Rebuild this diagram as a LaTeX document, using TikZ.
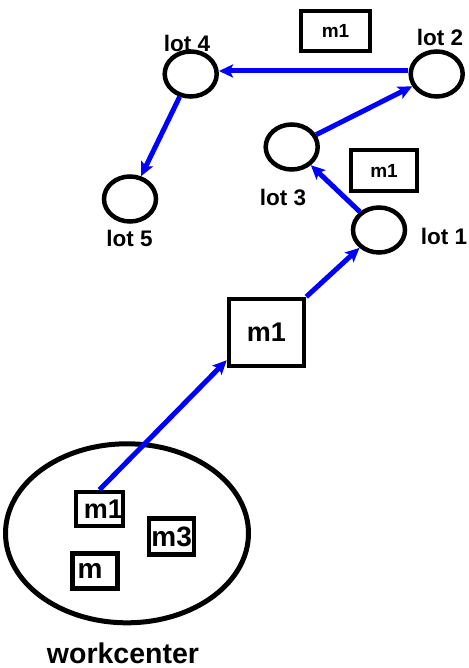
\documentclass[tikz,border=0pt]{standalone}
\usepackage{fontspec}
\setmainfont{Liberation Sans}
\usetikzlibrary{shapes.geometric,arrows.meta}
\tikzset{
  lot/.style={draw,ellipse,line width=4.5pt,minimum width=52pt,minimum height=45pt,inner sep=0pt},
  mbox/.style={draw,rectangle,line width=4.5pt,inner sep=0pt,font=\bfseries\fontsize{#1}{#1}\selectfont},
  lbl/.style={inner sep=0pt,font=\bfseries\fontsize{22.5}{22.5}\selectfont},
  flow/.style={draw=blue,line width=5pt,-{Stealth[length=14pt,width=13pt,inset=3pt]}}
}
\begin{document}
\begin{tikzpicture}[x=1pt,y=-1pt]
  \useasboundingbox (0,0) rectangle (468,668);
  \node[lot] (lot4) at (190.7,74) {};
  \node[lot] (lot2) at (436.7,74) {};
  \node[lot] (lot3) at (291.7,147) {};
  \node[lot] (lot1) at (379,230) {};
  \node[lot] (lot5) at (130,199) {};
  \node[lbl] (lot4lbl) at (187,43) {lot 4};
  \node[lbl] (lot2lbl) at (440,37) {lot 2};
  \node[lbl] (lot3lbl) at (283,197) {lot 3};
  \node[lbl] (lot1lbl) at (444,236) {lot 1};
  \node[lbl] (lot5lbl) at (129.5,238) {lot 5};
  \node[mbox=19,minimum width=69pt,minimum height=40pt] (m1top) at (335.5,31) {m1};
  \node[mbox=19,minimum width=66pt,minimum height=41pt] (m1mid) at (384,170.5) {m1};
  \node[mbox=27,minimum width=75pt,minimum height=67pt] (m1big) at (266.5,332.5) {m1};
  \node[draw,ellipse,line width=5pt,minimum width=243pt,minimum height=179pt] (wc) at (127,533.3) {};
  \node[mbox=27,minimum width=45pt,minimum height=34pt] (m1wc) at (99.5,509) {\hspace*{8pt}m1};
  \node[mbox=28,minimum width=45pt,minimum height=36pt] (m3wc) at (171.7,536.7) {m3};
  \node[mbox=28,minimum width=45pt,minimum height=35pt] (mwc) at (95,571) {m\hspace*{10pt}};
  \node[inner sep=0pt,font=\bfseries\fontsize{28.5}{28.5}\selectfont] (wclbl) at (123,653) {workcenter};
  \draw[flow] ([yshift=3pt]lot2.west) -- ([yshift=3pt]lot4.east);
  \draw[flow] (lot3) -- (lot2);
  \draw[flow] (lot1) -- (lot3);
  \draw[flow] (lot4) -- (lot5);
  \draw[flow] (m1big.north east) -- (lot1);
  \draw[flow] (m1wc.north) -- ([yshift=8pt]m1big.south west);
\end{tikzpicture}
\end{document}
